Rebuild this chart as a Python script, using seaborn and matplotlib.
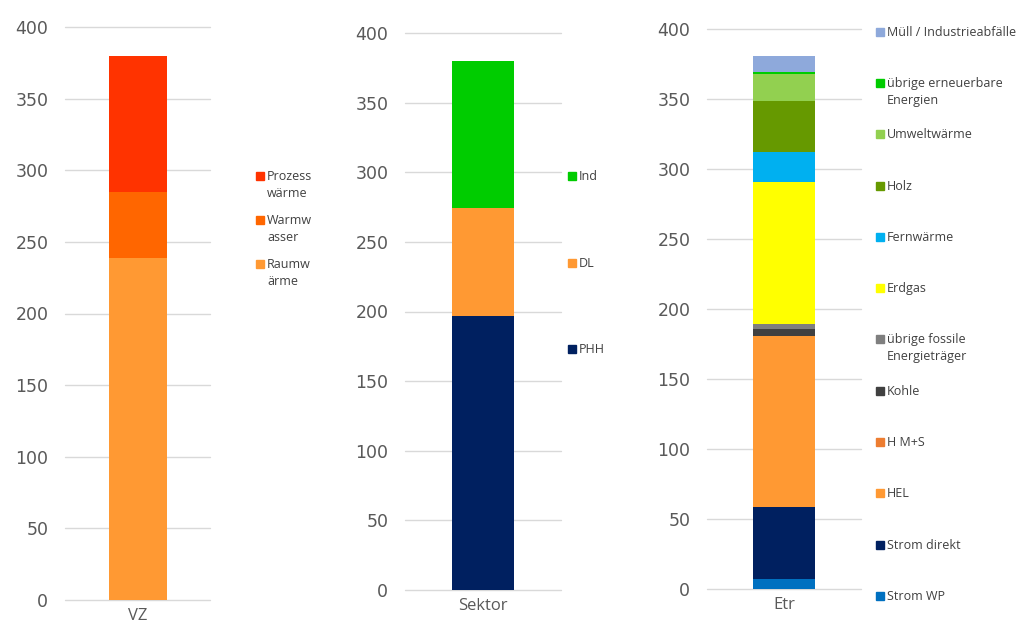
import numpy as np
import pandas as pd
import matplotlib
matplotlib.use("Agg")
import matplotlib.pyplot as plt
from matplotlib.patches import Rectangle
import seaborn as sns

# --- data (bottom segment first) ---
vz_keys = ["Raumw\närme", "Warmw\nasser", "Prozess\nwärme"]
vz_values = [239, 46, 95]
vz_colors = ["#FF9933", "#FF6600", "#FF3300"]

sektor_keys = ["PHH", "DL", "Ind"]
sektor_values = [197, 77, 106]
sektor_colors = ["#002060", "#FF9933", "#00CC00"]

etr_keys = ["Strom WP", "Strom direkt", "HEL", "H M+S", "Kohle",
            "übrige fossile\nEnergieträger", "Erdgas", "Fernwärme", "Holz",
            "Umweltwärme", "übrige erneuerbare\nEnergien", "Müll / Industrieabfälle"]
etr_values = [6.9, 51.5, 122.5, 0, 4.8, 3.6, 101.2, 21.9, 36.2, 19.4, 1.3, 11.7]
etr_colors = ["#0070C0", "#002060", "#FF9933", "#ED7D31", "#404040", "#7F7F7F",
              "#FFFF00", "#00B0F0", "#669900", "#92D050", "#00CC00", "#8EA9DB"]

yticks = list(range(0, 401, 50))

sns.set_style("white")
plt.rcParams["font.family"] = ["Open Sans", "DejaVu Sans"]

W, H = 1024, 630
fig = plt.figure(figsize=(W / 100, H / 100), dpi=100)


def px_axes(x0, x1, y_top, y_bot):
    return fig.add_axes([x0 / W, 1 - y_bot / H, (x1 - x0) / W, (y_bot - y_top) / H])


def stacked(ax, group, keys, values, colors):
    df = pd.DataFrame({"group": group, "part": keys, "value": values})
    df["top"] = df["value"].cumsum()
    # tallest cumulative bar first, lower segments painted over it
    order = keys[::-1]
    sns.barplot(data=df, x="group", y="top", hue="part", hue_order=order,
                palette=dict(zip(keys, colors)), dodge=False, width=0.4,
                saturation=1, errorbar=None, linewidth=0, legend=False, ax=ax)
    ax.set_ylim(0, 400)
    ax.set_yticks(yticks)
    ax.set_axisbelow(True)
    ax.yaxis.grid(True, color="#D9D9D9", lw=1)
    ax.xaxis.grid(False)
    for gl in ax.get_ygridlines():
        gl.set_clip_on(False)
    sns.despine(ax=ax, left=True, bottom=True)
    ax.set_xlabel("")
    ax.set_ylabel("")
    ax.tick_params(axis="y", length=0, pad=12, labelsize=12.5, labelcolor="#595959")
    ax.tick_params(axis="x", length=0, pad=6, labelsize=12, labelcolor="#595959")
    for t in ax.get_yticklabels():
        t.set_fontfamily("DejaVu Sans")


def draw_key(x, y0, step, keys, colors):
    # legend entries listed from top segment to bottom segment
    for i, (lab, col) in enumerate(zip(keys[::-1], colors[::-1])):
        y = y0 + i * step
        fig.patches.append(Rectangle((x / W, 1 - (y + 4) / H), 8 / W, 8 / H,
                                     transform=fig.transFigure, color=col))
        fig.text((x + 11) / W, 1 - (y - 6) / H, lab, va="top", ha="left",
                 fontsize=9, color="#404040", linespacing=1.4)


ax1 = px_axes(65, 210, 27, 600)
stacked(ax1, "VZ", vz_keys, vz_values, vz_colors)
draw_key(256, 176, 44, vz_keys, vz_colors)

ax2 = px_axes(405, 561, 33, 590)
stacked(ax2, "Sektor", sektor_keys, sektor_values, sektor_colors)
draw_key(568, 176, 86.7, sektor_keys, sektor_colors)

ax3 = px_axes(707, 861, 29, 589)
stacked(ax3, "Etr", etr_keys, etr_values, etr_colors)
draw_key(876, 31.7, 51.3, etr_keys, etr_colors)

fig.savefig("out.png", dpi=100)
